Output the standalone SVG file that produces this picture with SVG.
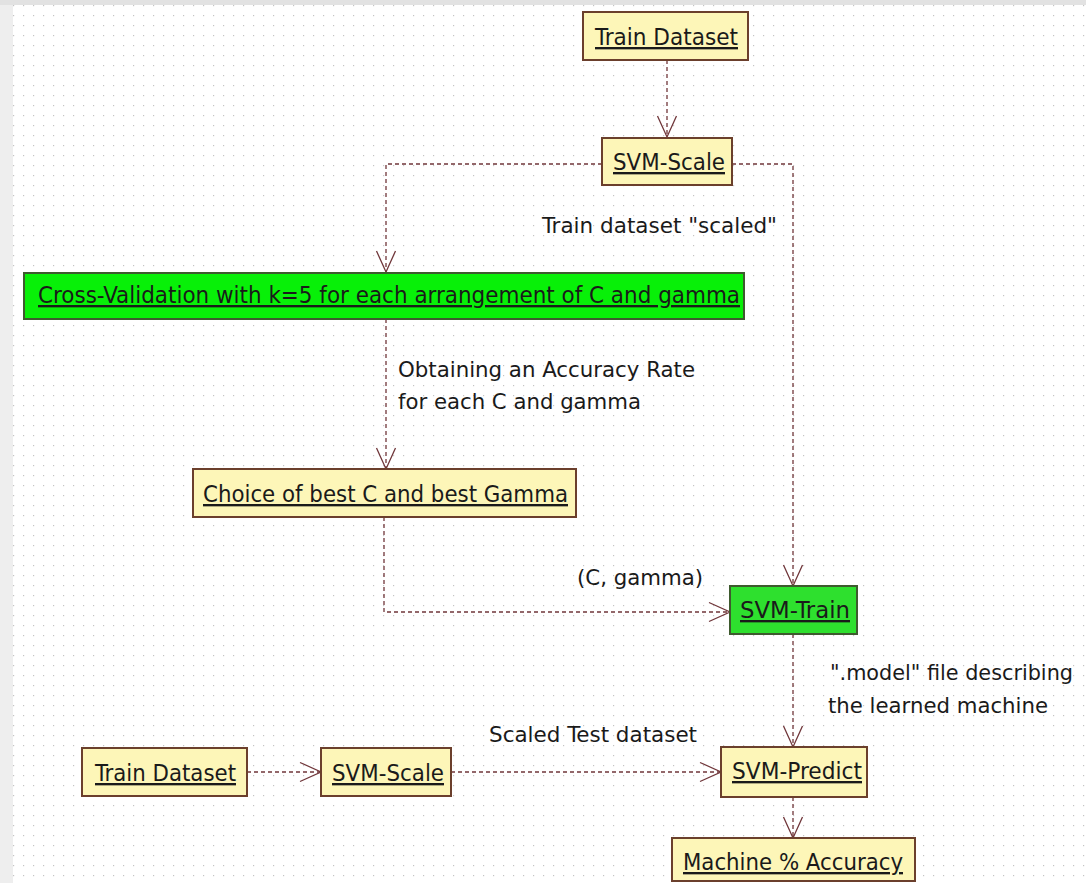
<svg xmlns="http://www.w3.org/2000/svg" width="1086" height="883" viewBox="0 0 1086 883">
  <defs>
    <pattern id="grid" x="13" y="5" width="10" height="10" patternUnits="userSpaceOnUse">
      <rect x="0" y="0" width="1.2" height="1.2" fill="#c4c4c4"/>
    </pattern>
    <marker id="open-arrow" markerUnits="userSpaceOnUse" markerWidth="26" markerHeight="26" viewBox="-23 -12 26 24" refX="0" refY="0" orient="auto">
      <path d="M-21,-9.5 L0,0 L-21,9.5" fill="none" stroke="#70363a" stroke-width="1.3"/>
    </marker>
    <style>
      .node rect { fill: #fdf6b8; stroke: #6b3f2c; stroke-width: 2; }
      .node.green rect { fill: #08f008; stroke: #3e5a2e; }
      .node.green2 rect { fill: #2ee02e; stroke: #3e5a2e; }
      .node text { font-family: "DejaVu Sans Condensed", "DejaVu Sans", "Liberation Sans", sans-serif; font-size: 23.5px; fill: #1a1a1a; text-decoration: underline; }
      .label { font-family: "DejaVu Sans Condensed", "DejaVu Sans", "Liberation Sans", sans-serif; font-size: 21px; fill: #1a1a1a; }
      .conn path { fill: none; stroke: #70363a; stroke-width: 1.3; stroke-dasharray: 4 3; marker-end: url(#open-arrow); }
    </style>
  </defs>

  <!-- canvas -->
  <rect x="0" y="0" width="1086" height="883" fill="#ffffff"/>
  <rect x="0" y="0" width="1086" height="883" fill="url(#grid)"/>
  <rect x="0" y="0" width="13" height="883" fill="#eeeeee"/>
  <rect x="0" y="0" width="1086" height="5" fill="#e2e2e2"/>

  <!-- connectors -->
  <g id="connectors" class="conn">
    <path d="M667 60 V137"/>
    <path d="M602 164 H386 V272"/>
    <path d="M732 164 H793 V586"/>
    <path d="M386 319 V469"/>
    <path d="M384 517 V612 H730"/>
    <path d="M793 634 V747"/>
    <path d="M793 797 V838"/>
    <path d="M247 772 H321"/>
    <path d="M451 772 H721"/>
  </g>

  <!-- connector labels -->
  <g id="labels">
    <text class="label" x="542" y="233" textLength="235" lengthAdjust="spacingAndGlyphs">Train dataset "scaled"</text>
    <text class="label" x="398" y="377" textLength="297" lengthAdjust="spacingAndGlyphs">Obtaining an Accuracy Rate</text>
    <text class="label" x="398" y="409" textLength="243" lengthAdjust="spacingAndGlyphs">for each C and gamma</text>
    <text class="label" x="577" y="585" textLength="126" lengthAdjust="spacingAndGlyphs">(C, gamma)</text>
    <text class="label" x="830" y="680" textLength="243" lengthAdjust="spacingAndGlyphs">".model" file describing</text>
    <text class="label" x="828" y="713" textLength="220" lengthAdjust="spacingAndGlyphs">the learned machine</text>
    <text class="label" x="489" y="742" textLength="208" lengthAdjust="spacingAndGlyphs">Scaled Test dataset</text>
  </g>

  <!-- nodes -->
  <g id="train-dataset-top" class="node">
    <rect x="583" y="12" width="165" height="48"/>
    <text x="595" y="45" textLength="143" lengthAdjust="spacingAndGlyphs">Train Dataset</text>
  </g>
  <g id="svm-scale-top" class="node">
    <rect x="602" y="138" width="130" height="47"/>
    <text x="613" y="170" textLength="112" lengthAdjust="spacingAndGlyphs">SVM-Scale</text>
  </g>
  <g id="cross-validation" class="node green">
    <rect x="24" y="273" width="720" height="46"/>
    <text x="38" y="303" textLength="702" lengthAdjust="spacingAndGlyphs">Cross-Validation with k=5 for each arrangement of C and gamma</text>
  </g>
  <g id="choice-best" class="node">
    <rect x="193" y="469" width="383" height="48"/>
    <text x="203" y="502" textLength="365" lengthAdjust="spacingAndGlyphs">Choice of best C and best Gamma</text>
  </g>
  <g id="svm-train" class="node green2">
    <rect x="730" y="586" width="127" height="48"/>
    <text x="740" y="618" textLength="110" lengthAdjust="spacingAndGlyphs">SVM-Train</text>
  </g>
  <g id="train-dataset-bottom" class="node">
    <rect x="82" y="748" width="165" height="48"/>
    <text x="95" y="781" textLength="141" lengthAdjust="spacingAndGlyphs">Train Dataset</text>
  </g>
  <g id="svm-scale-bottom" class="node">
    <rect x="321" y="748" width="130" height="48"/>
    <text x="332" y="781" textLength="112" lengthAdjust="spacingAndGlyphs">SVM-Scale</text>
  </g>
  <g id="svm-predict" class="node">
    <rect x="721" y="747" width="146" height="50"/>
    <text x="732" y="779" textLength="130" lengthAdjust="spacingAndGlyphs">SVM-Predict</text>
  </g>
  <g id="machine-accuracy" class="node">
    <rect x="672" y="838" width="243" height="43"/>
    <text x="683" y="870" textLength="220" lengthAdjust="spacingAndGlyphs">Machine % Accuracy</text>
  </g>
</svg>
